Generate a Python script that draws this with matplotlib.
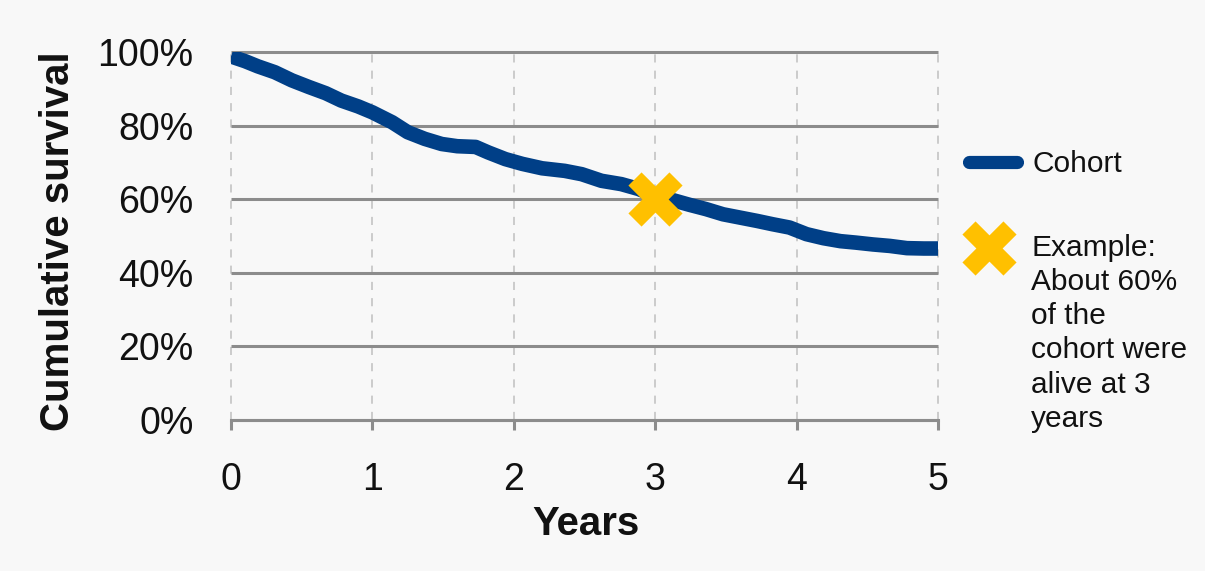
import numpy as np
import matplotlib
matplotlib.use("Agg")
import matplotlib.pyplot as plt
from matplotlib.lines import Line2D

plt.rcParams['font.family'] = ['Liberation Sans', 'DejaVu Sans']

# survival curve (years, % alive)
years = [0, 0.1, 0.19, 0.31, 0.43, 0.55, 0.67, 0.78, 0.9, 1.0, 1.14, 1.25,
         1.37, 1.49, 1.6, 1.73, 1.82, 1.94, 2.06, 2.2, 2.36, 2.48, 2.62, 2.76,
         2.88, 3.0, 3.12, 3.24, 3.36, 3.48, 3.6, 3.72, 3.83, 3.95, 4.07, 4.19,
         4.31, 4.42, 4.54, 4.66, 4.78, 4.9, 5.0]
survival = [98.8, 97.5, 96.1, 94.5, 92.3, 90.5, 88.8, 86.8, 85.2, 83.6, 80.9,
            78.2, 76.4, 75.0, 74.4, 74.2, 72.7, 70.9, 69.6, 68.4, 67.7, 66.8,
            65.0, 64.1, 62.8, 61.0, 59.8, 58.5, 57.3, 55.9, 55.0, 54.1, 53.2,
            52.3, 50.5, 49.4, 48.6, 48.2, 47.7, 47.3, 46.7, 46.6, 46.6]
example_year = [3]
example_surv = [60]

x_ticks = [0, 1, 2, 3, 4, 5]
y_ticks = [0, 20, 40, 60, 80, 100]
y_labels = ['0%', '20%', '40%', '60%', '80%', '100%']

blue = '#003F87'
yellow = '#FFC000'
grid_gray = '#8C8C8C'
bg = '#F8F8F8'

# thick "x" shaped marker (plus sign turned by 45 degrees)
a = 0.32
plus = np.array([(a, a), (a, 1), (-a, 1), (-a, a), (-1, a), (-1, -a),
                 (-a, -a), (-a, -1), (a, -1), (a, -a), (1, -a), (1, a), (a, a)])
c = np.cos(np.pi / 4)
cross = plus @ np.array([[c, c], [-c, c]])

fig = plt.figure(figsize=(12.05, 5.71), dpi=100, facecolor=bg)
ax = fig.add_axes([231/1205, 1 - 420/571, (938-231)/1205, (420-52)/571])
ax.set_facecolor(bg)

# vertical dashed grid
for xv in x_ticks:
    ax.axvline(xv, color='#C8C8C8', lw=1.3, dashes=(4.5, 4.5), zorder=1, clip_on=False)
# horizontal solid grid
ax.hlines(y_ticks, 0, 5, color=grid_gray, lw=2.2, zorder=2, clip_on=False)

ax.plot(years, survival, color=blue, lw=10.5, solid_capstyle='butt',
        solid_joinstyle='round', zorder=3)
ax.plot(example_year, example_surv, linestyle='none', marker=cross, ms=39,
        color=yellow, mec='none', zorder=4)

ax.set_xlim(0, 5)
ax.set_ylim(0, 100)
ax.set_xticks(x_ticks)
ax.set_yticks(y_ticks)
ax.set_yticklabels(y_labels)
for s in ['top', 'right', 'left']:
    ax.spines[s].set_visible(False)
ax.spines['bottom'].set_color(grid_gray)
ax.spines['bottom'].set_linewidth(2.2)
ax.tick_params(axis='x', direction='out', length=7, width=2.2, color=grid_gray,
               labelsize=27, pad=23, labelcolor='#111111')
ax.tick_params(axis='y', length=0, labelsize=27, pad=27, labelcolor='#111111')

fig.text(586/1205, 1 - 535/571, 'Years', fontsize=29, fontweight='bold',
         ha='center', va='baseline', color='#111111')
fig.text(58/1205, 1 - 241/571, 'Cumulative survival', fontsize=29,
         fontweight='bold', rotation=90, ha='center', va='center', color='#111111')

# legend drawn by hand
fig.add_artist(Line2D([969/1205, 1017/1205], [1 - 162/571, 1 - 162/571],
                      color=blue, lw=9.5, solid_capstyle='round'))
fig.text(1033/1205, 1 - 172/571, 'Cohort', fontsize=21.5, ha='left',
         va='baseline', color='#111111')
fig.add_artist(Line2D([989/1205], [1 - 248/571], marker=cross, ms=39,
                      color=yellow, mec='none', linestyle='none'))
fig.text(1031/1205, 1 - 427/571,
         'Example:\nAbout 60%\nof the\ncohort were\nalive at 3\nyears',
         fontsize=21.5, ha='left', va='baseline', linespacing=1.285, color='#111111')

fig.savefig('out.png', dpi=100, facecolor=bg)
